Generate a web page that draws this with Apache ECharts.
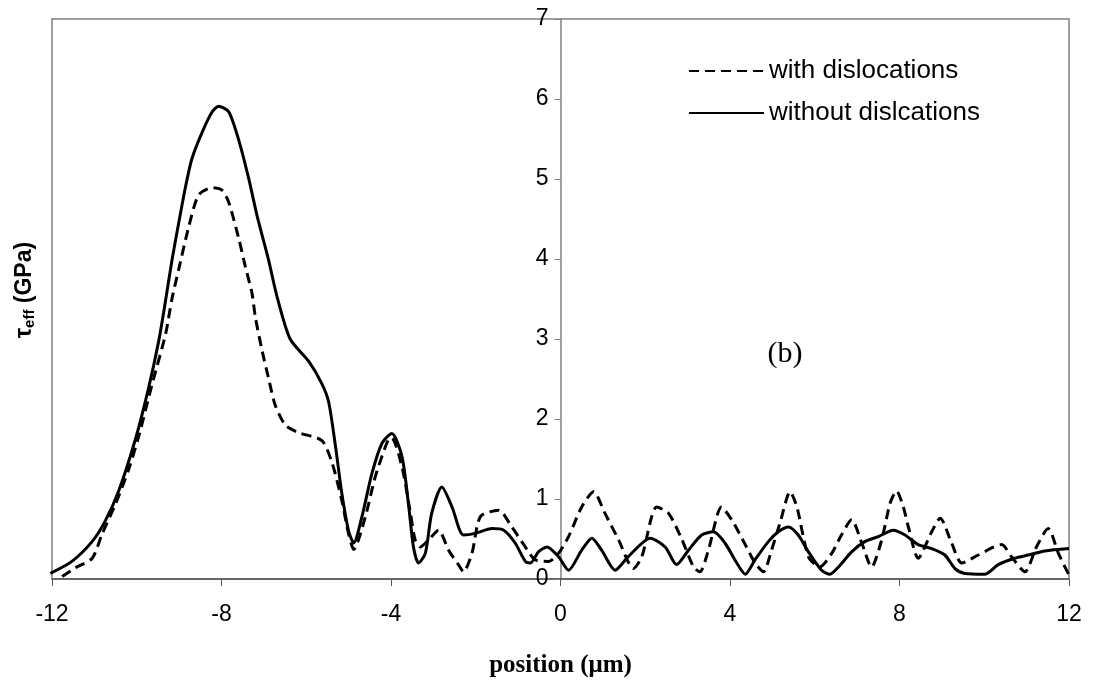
<!DOCTYPE html>
<html>
<head>
<meta charset="utf-8">
<script src="https://cdn.jsdelivr.net/npm/echarts@6/dist/echarts.min.js"></script>
<style>
  html, body { margin: 0; padding: 0; background: #fff; }
  #main { width: 1093px; height: 683px; }
</style>
</head>
<body>
<div id="main"></div>
<script>
// with dislocations (dashed)
var xWith = [-11.76, -11.45, -11.05, -10.82, -10.5, -10.19, -9.95, -9.64, -9.32, -9.17, -9.01, -8.77, -8.54, -8.22, -7.99, -7.83, -7.59, -7.44, -7.28, -7.2, -7.04, -6.89, -6.73, -6.49, -6.18, -5.63, -5.39, -5.16, -5.0, -4.88, -4.61, -4.37, -4.06, -3.98, -3.74, -3.54, -3.43, -3.31, -3.11, -2.88, -2.64, -2.41, -2.29, -2.09, -1.89, -1.46, -1.15, -0.83, -0.6, -0.28, -0.05, 0.19, 0.5, 0.78, 1.05, 1.37, 1.72, 1.92, 2.27, 2.55, 2.86, 3.14, 3.29, 3.49, 3.8, 4.04, 4.36, 4.59, 4.79, 4.98, 5.18, 5.42, 5.58, 5.85, 6.12, 6.4, 6.63, 6.87, 7.11, 7.34, 7.58, 7.78, 7.93, 8.09, 8.21, 8.44, 8.76, 8.96, 9.23, 9.47, 9.86, 10.41, 10.64, 10.96, 11.23, 11.51, 11.75, 12.0];
var yWith = [0.03, 0.14, 0.26, 0.56, 0.94, 1.37, 1.79, 2.43, 3.06, 3.5, 3.87, 4.41, 4.8, 4.89, 4.86, 4.71, 4.25, 3.91, 3.57, 3.27, 2.85, 2.51, 2.17, 1.92, 1.83, 1.73, 1.45, 0.98, 0.56, 0.37, 0.77, 1.28, 1.75, 1.76, 1.4, 0.82, 0.49, 0.4, 0.49, 0.61, 0.36, 0.18, 0.09, 0.32, 0.78, 0.86, 0.65, 0.4, 0.24, 0.22, 0.32, 0.53, 0.9, 1.09, 0.82, 0.49, 0.13, 0.28, 0.9, 0.82, 0.5, 0.15, 0.09, 0.36, 0.9, 0.74, 0.43, 0.2, 0.09, 0.36, 0.7, 1.09, 0.9, 0.28, 0.15, 0.32, 0.55, 0.74, 0.45, 0.15, 0.49, 0.95, 1.1, 0.9, 0.65, 0.26, 0.59, 0.76, 0.45, 0.2, 0.3, 0.43, 0.28, 0.09, 0.4, 0.63, 0.32, 0.05];

// without dislcations (solid)
var xWithout = [-12.04, -11.53, -11.05, -10.74, -10.42, -10.03, -9.72, -9.48, -9.32, -9.17, -9.01, -8.85, -8.7, -8.46, -8.22, -8.07, -7.83, -7.59, -7.36, -7.16, -6.89, -6.69, -6.38, -5.94, -5.63, -5.47, -5.31, -5.16, -5.0, -4.88, -4.69, -4.45, -4.21, -3.98, -3.74, -3.58, -3.47, -3.35, -3.19, -3.04, -2.8, -2.56, -2.29, -2.01, -1.62, -1.34, -1.07, -0.83, -0.71, -0.52, -0.32, -0.05, 0.19, 0.5, 0.74, 0.97, 1.29, 1.6, 2.12, 2.47, 2.74, 3.02, 3.33, 3.61, 3.88, 4.16, 4.36, 4.59, 4.91, 5.14, 5.38, 5.61, 5.85, 6.16, 6.36, 6.56, 6.87, 7.19, 7.5, 7.85, 8.13, 8.44, 8.76, 9.07, 9.31, 9.54, 10.02, 10.33, 10.72, 11.04, 11.43, 12.0];
var yWithout = [0.07, 0.22, 0.47, 0.73, 1.11, 1.75, 2.39, 2.98, 3.48, 3.98, 4.45, 4.9, 5.25, 5.58, 5.84, 5.91, 5.84, 5.48, 5.01, 4.54, 3.99, 3.53, 3.0, 2.72, 2.44, 2.21, 1.66, 1.07, 0.6, 0.45, 0.77, 1.32, 1.7, 1.82, 1.53, 0.9, 0.4, 0.2, 0.32, 0.82, 1.15, 0.9, 0.55, 0.57, 0.63, 0.61, 0.45, 0.22, 0.2, 0.34, 0.4, 0.28, 0.11, 0.36, 0.51, 0.36, 0.11, 0.28, 0.51, 0.4, 0.18, 0.36, 0.55, 0.59, 0.45, 0.2, 0.06, 0.24, 0.47, 0.59, 0.65, 0.55, 0.34, 0.11, 0.06, 0.15, 0.34, 0.47, 0.53, 0.61, 0.55, 0.43, 0.38, 0.3, 0.13, 0.07, 0.06, 0.18, 0.26, 0.3, 0.35, 0.38];

var xTicks = [-12, 12, 4];
var yTicks = [0, 7, 1];

function pairs(xs, ys) {
  return xs.map(function (x, i) { return [x, ys[i]]; });
}

var myChart = echarts.init(document.getElementById('main'));
var gridLeft = 52, gridRight = 24;
// y axis sits at x = 0, i.e. middle of the plot
var yOffset = -(1093 - gridLeft - gridRight) / 2;

var option = {
  animation: false,
  backgroundColor: '#fff',
  grid: {
    left: gridLeft, right: gridRight, top: 19, bottom: 104,
    show: true, borderColor: '#808080', borderWidth: 1.5
  },
  legend: {
    orient: 'vertical',
    left: 688,
    top: 58,
    padding: 0,
    itemWidth: 75,
    itemHeight: 14,
    itemGap: 16,
    itemStyle: { opacity: 0 },
    textStyle: { fontFamily: 'Liberation Sans', fontSize: 26, color: '#000' },
    data: ['with dislocations', 'without dislcations']
  },
  xAxis: {
    type: 'value',
    min: xTicks[0], max: xTicks[1], interval: xTicks[2],
    name: 'position (μm)',
    nameLocation: 'middle',
    nameGap: 74,
    nameTextStyle: { fontFamily: 'Liberation Serif', fontWeight: 'bold', fontSize: 25, color: '#000' },
    axisLine: { onZero: false, lineStyle: { color: '#555', width: 1.5 } },
    axisTick: { length: 7, lineStyle: { color: '#555' } },
    axisLabel: { margin: 24, fontFamily: 'Liberation Sans', fontSize: 23, color: '#000' },
    splitLine: { show: false }
  },
  yAxis: {
    type: 'value',
    position: 'left',
    offset: yOffset,
    min: yTicks[0], max: yTicks[1], interval: yTicks[2],
    axisLine: { show: true, onZero: false, lineStyle: { color: '#808080', width: 1.5 } },
    axisTick: { show: true, length: 6, lineStyle: { color: '#808080' } },
    axisLabel: { margin: 12, fontFamily: 'Liberation Sans', fontSize: 23, color: '#000' },
    splitLine: { show: false }
  },
  graphic: [
    {
      type: 'text',
      x: 25, y: 290,
      rotation: Math.PI / 2,
      style: {
        text: '{a|τ}{s|eff}{a| (GPa)}',
        align: 'center',
        verticalAlign: 'middle',
        rich: {
          a: { fontFamily: 'Liberation Sans', fontWeight: 'bold', fontSize: 23, fill: '#000' },
          s: { fontFamily: 'Liberation Sans', fontWeight: 'bold', fontSize: 15, fill: '#000', padding: [10, 0, 0, 0] }
        }
      }
    },
    {
      type: 'text',
      x: 785, y: 354,
      style: {
        text: '(b)',
        align: 'center',
        verticalAlign: 'middle',
        fontFamily: 'Liberation Serif',
        fontSize: 30,
        fill: '#000'
      }
    }
  ],
  series: [
    {
      name: 'with dislocations',
      type: 'line',
      data: pairs(xWith, yWith),
      symbol: 'none',
      smooth: 0.25,
      lineStyle: { color: '#000', width: 3, type: [10, 6] },
      itemStyle: { color: '#000' }
    },
    {
      name: 'without dislcations',
      type: 'line',
      data: pairs(xWithout, yWithout),
      symbol: 'none',
      smooth: 0.25,
      lineStyle: { color: '#000', width: 3 },
      itemStyle: { color: '#000' }
    }
  ]
};
myChart.setOption(option);
</script>
</body>
</html>
